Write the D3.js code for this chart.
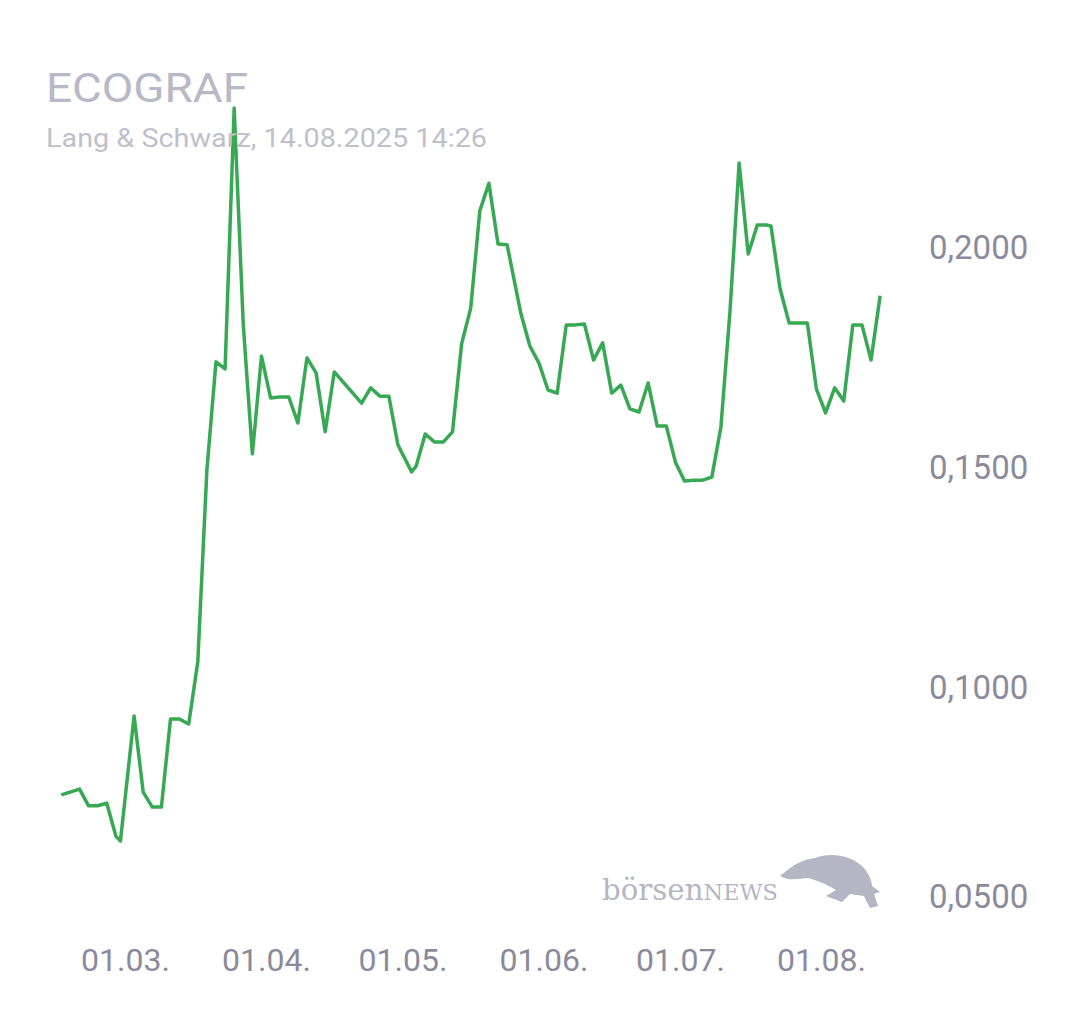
<!DOCTYPE html>
<html><head><meta charset="utf-8">
<script src="https://cdn.jsdelivr.net/npm/d3@7"></script>
<style>body{margin:0;background:#fff}svg{display:block}</style>
</head><body>
<svg id="c" width="1080" height="1013"></svg>
<script>
const dates = ["2025-02-15","2025-02-19","2025-02-21","2025-02-23","2025-02-25","2025-02-27","2025-02-28","2025-03-03","2025-03-05","2025-03-07","2025-03-09","2025-03-11","2025-03-13","2025-03-15","2025-03-17","2025-03-19","2025-03-21","2025-03-23","2025-03-25","2025-03-27","2025-03-29","2025-03-31","2025-04-02","2025-04-04","2025-04-06","2025-04-08","2025-04-10","2025-04-12","2025-04-14","2025-04-16","2025-04-22","2025-04-24","2025-04-26","2025-04-28","2025-04-30","2025-05-03","2025-05-04","2025-05-06","2025-05-08","2025-05-10","2025-05-12","2025-05-14","2025-05-16","2025-05-18","2025-05-20","2025-05-22","2025-05-24","2025-05-27","2025-05-29","2025-05-31","2025-06-02","2025-06-04","2025-06-06","2025-06-08","2025-06-10","2025-06-12","2025-06-14","2025-06-16","2025-06-18","2025-06-20","2025-06-22","2025-06-24","2025-06-26","2025-06-28","2025-06-30","2025-07-02","2025-07-04","2025-07-06","2025-07-08","2025-07-10","2025-07-12","2025-07-14","2025-07-16","2025-07-18","2025-07-20","2025-07-21","2025-07-23","2025-07-25","2025-07-29","2025-07-31","2025-08-02","2025-08-04","2025-08-06","2025-08-08","2025-08-10","2025-08-12","2025-08-14"];
const prices = [0.0755,0.0768,0.0730,0.0730,0.0736,0.0661,0.0650,0.0934,0.0761,0.0727,0.0727,0.0927,0.0927,0.0916,0.1057,0.1493,0.1739,0.1723,0.2316,0.1823,0.1530,0.1752,0.1657,0.1659,0.1659,0.1600,0.1748,0.1714,0.1580,0.1716,0.1645,0.1680,0.1661,0.1661,0.1550,0.1489,0.1502,0.1575,0.1557,0.1557,0.1580,0.1780,0.1861,0.2082,0.2145,0.2007,0.2005,0.1850,0.1775,0.1736,0.1675,0.1668,0.1823,0.1823,0.1825,0.1743,0.1782,0.1668,0.1686,0.1632,0.1625,0.1691,0.1593,0.1593,0.1511,0.1468,0.1470,0.1470,0.1477,0.1591,0.1855,0.2191,0.1984,0.2050,0.2050,0.2048,0.1905,0.1827,0.1827,0.1677,0.1623,0.1680,0.1650,0.1823,0.1823,0.1743,0.1889];
const yTicks = [0.05,0.10,0.15,0.20];
const xTicks = ["2025-03-01","2025-04-01","2025-05-01","2025-06-01","2025-07-01","2025-08-01"];
const title = "ECOGRAF", subtitle = "Lang & Schwarz, 14.08.2025 14:26";

const p = d3.timeParse("%Y-%m-%d");
const data = dates.map((d,i)=>({d:p(d),v:prices[i]}));
const svg = d3.select("#c");
const x = d3.scaleTime().domain([p("2025-03-01"),p("2025-08-01")]).range([125,821]);
const y = d3.scaleLinear().domain([0.05,0.20]).range([907,247]);
const font = "Roboto, 'Noto Sans', sans-serif";

svg.append("g").attr("transform","translate(929,0)")
  .call(d3.axisRight(y).tickValues(yTicks).tickSize(0).tickFormat(d=>d3.format(".4f")(d).replace(".",",")))
  .call(g=>g.select(".domain").remove())
  .call(g=>g.selectAll("text").attr("x",0).attr("fill","#8a8a9c").attr("font-size",33).attr("font-family",font)
     .attr("dy",d=>d===0.05?"0em":"0.35em"));

svg.append("g").attr("transform","translate(0,960)")
  .call(d3.axisBottom(x).tickValues(xTicks.map(p)).tickSize(0).tickFormat(d3.timeFormat("%d.%m.")))
  .call(g=>g.select(".domain").remove())
  .call(g=>g.selectAll("text").attr("y",0).attr("dy","0.35em").attr("fill","#8a8a9c").attr("font-size",32).attr("font-family",font));

// logo
const lg = svg.append("g").attr("fill","#b5b5c3");
lg.append("text").attr("x",602).attr("y",900).attr("font-family","'DejaVu Serif','Liberation Serif',serif")
  .attr("font-size",30).attr("fill","#b5b5c3").attr("textLength",176).attr("lengthAdjust","spacingAndGlyphs")
  .text("börsen").append("tspan").attr("font-size",23).text("NEWS");
lg.append("path").attr("d","M780,876 C792,866 800,860 815,858 C830,852 850,855 862,866 C868,872 872,880 872,886 L880,892 L874,894 L878,906 L870,908 L864,896 L850,894 L842,902 L826,896 L836,890 C826,884 816,880 808,878 C800,878 790,882 780,876 Z");

svg.append("path").datum(data)
  .attr("d",d3.line().x(d=>x(d.d)).y(d=>y(d.v)))
  .attr("fill","none").attr("stroke","#37a853").attr("stroke-width",3.5).attr("stroke-linejoin","round");

svg.append("text").attr("x",46).attr("y",102).attr("font-family",font).attr("font-size",40).attr("fill","#b8b8c6")
  .attr("textLength",202).attr("lengthAdjust","spacingAndGlyphs").text(title);
svg.append("text").attr("x",46).attr("y",147).attr("font-family",font).attr("font-size",25).attr("fill","#c0c0cc")
  .attr("textLength",441).attr("lengthAdjust","spacingAndGlyphs").text(subtitle);
</script>
</body></html>
